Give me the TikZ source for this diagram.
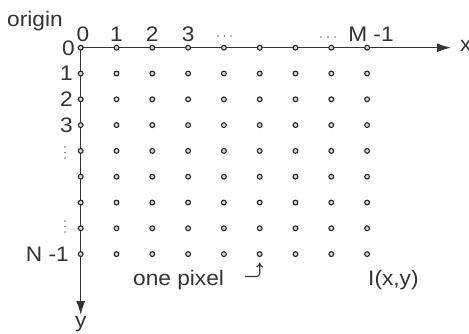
\documentclass[tikz,border=0pt]{standalone}
\usepackage{fontspec}
\setmainfont{Liberation Sans}[FakeStretch=1.08]
\usetikzlibrary{arrows.meta}
\begin{document}
\begin{tikzpicture}[x=1pt,y=-1pt,
  every node/.style={font=\fontsize{21}{24}\selectfont, text=black!80, inner sep=0pt},
  pix/.style={circle, draw=black!85, fill=black!15, line width=1.1pt, minimum size=4.8pt, inner sep=0pt},
  axis/.style={draw=black!80, line width=1.4pt, -{Latex[length=14pt,width=9pt]}},
  lbl/.style={anchor=base},
  rowlbl/.style={anchor=east},
  dotmark/.style={circle, fill=black!55, minimum size=1.6pt, inner sep=0pt},
  hook/.style={draw=black!80, line width=1.1pt, rounded corners=3pt, -{To[length=5pt,width=7pt]}}
]
\useasboundingbox (0,0) rectangle (469,334);
% origin and axes
\coordinate (O) at (80.7,47.7);
\coordinate (xend) at (451,47.7);
\coordinate (yend) at (80.7,315);
\draw[axis] (O) -- (xend);
\draw[axis] (O) -- (yend);
% pixel grid
\foreach \i/\xx in {0/80.7,1/116.5,2/152.3,3/188.1,4/223.9,5/259.7,6/295.5,7/331.3,8/367.1}{
  \foreach \j/\yy in {0/47.7,1/73.5,2/99.3,3/125.1,4/150.9,5/176.7,6/202.5,7/228.3,8/254.1}{
    \node[pix] (p-\i-\j) at (\xx,\yy) {};
  }
}
% labels
\node[anchor=base west] (origin) at (7,27) {origin};
\node[lbl] (c0) at (83,42) {0};
\node[lbl] (c1) at (116.5,42) {1};
\node[lbl] (c2) at (152.3,42) {2};
\node[lbl] (c3) at (188.3,42) {3};
\node[lbl] (cm) at (371,42) {M -1};
\node[anchor=west] (xl) at (460,46) {x};
\node[anchor=north] (yl) at (80.7,316) {y};
\node[rowlbl] (r0) at (75,48.5) {0};
\node[rowlbl] (r1) at (73,73.5) {1};
\node[rowlbl] (r2) at (73,99.3) {2};
\node[rowlbl] (r3) at (73,125.1) {3};
\node[rowlbl] (rn) at (69,254.1) {N -1};
\node[anchor=base west] (onepix) at (133,285) {one pixel};
\node[anchor=base west] (ixy) at (368,285) {I(x,y)};
% ellipsis dots
\foreach \k/\xx in {a/218,b/224.5,c/231}{\node[dotmark] (hd1\k) at (\xx,36) {};}
\foreach \k/\xx in {a/321,b/328,c/335}{\node[dotmark] (hd2\k) at (\xx,37) {};}
\foreach \k/\yy in {a/147,b/152.5,c/158}{\node[dotmark] (vd1\k) at (65,\yy) {};}
\foreach \k/\yy in {a/221,b/226.5,c/232}{\node[dotmark] (vd2\k) at (65,\yy) {};}
% hook arrow
\coordinate (hs) at (245,276.5);
\coordinate (ht) at (259.7,262.5);
\draw[hook] (hs) -| (ht);
\end{tikzpicture}
\end{document}
